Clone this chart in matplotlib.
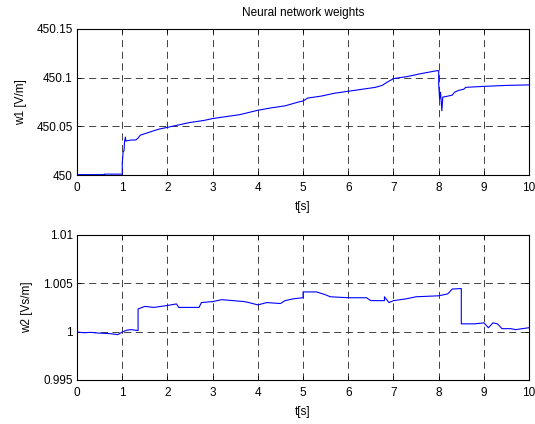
import matplotlib
matplotlib.use("Agg")
import matplotlib.pyplot as plt

plt.rcParams['font.family'] = ['Liberation Sans', 'DejaVu Sans']

# Weight w1 trajectory [V/m]
t1 = [0, 0.6, 0.6, 1.0, 1.0, 1.02, 1.04, 1.05, 1.07, 1.08, 1.2, 1.3, 1.35, 1.4,
      1.6, 1.8, 2.0, 2.3, 2.5, 2.8, 3.0, 3.3, 3.6, 4.0, 4.3, 4.6, 4.9, 5.0, 5.1,
      5.4, 5.7, 6.0, 6.3, 6.6, 6.75, 6.85, 7.0, 7.3, 7.6, 7.95, 8.0, 8.0, 8.02,
      8.04, 8.07, 8.09, 8.2, 8.3, 8.35, 8.45, 8.55, 8.6, 9.0, 9.5, 10.0]
w1 = [450.0005, 450.0005, 450.001, 450.001, 450.012, 450.024, 450.025, 450.034,
      450.039, 450.035, 450.036, 450.036, 450.038, 450.041, 450.044, 450.047,
      450.049, 450.052, 450.054, 450.056, 450.058, 450.060, 450.062, 450.0665,
      450.069, 450.071, 450.075, 450.076, 450.079, 450.081, 450.084, 450.086,
      450.088, 450.090, 450.092, 450.095, 450.099, 450.101, 450.104, 450.107,
      450.107, 450.093, 450.078, 450.085, 450.066, 450.080, 450.081, 450.082,
      450.085, 450.087, 450.088, 450.090, 450.091, 450.092, 450.0925]

# Weight w2 trajectory [Vs/m]
t2 = [0, 0.15, 0.3, 0.45, 0.6, 0.75, 0.9, 1.0, 1.1, 1.2, 1.35, 1.35, 1.5, 1.7,
      2.0, 2.2, 2.25, 2.7, 2.75, 3.0, 3.2, 3.7, 3.8, 4.0, 4.2, 4.5, 4.6, 4.8,
      5.0, 5.0, 5.3, 5.5, 5.6, 6.0, 6.4, 6.5, 6.8, 6.8, 6.9, 7.0, 7.3, 7.5,
      8.0, 8.2, 8.3, 8.5, 8.5, 8.8, 9.0, 9.1, 9.2, 9.3, 9.4, 9.6, 9.7, 10.0]
w2 = [0.99995, 0.99988, 0.99992, 0.99985, 0.99982, 0.99978, 0.99968, 0.99995,
      1.00015, 1.0002, 1.0001, 1.00234, 1.0026, 1.0025, 1.0027, 1.00286, 1.0025,
      1.0025, 1.0030, 1.0031, 1.0033, 1.0031, 1.0030, 1.00276, 1.0030, 1.0029,
      1.0032, 1.0034, 1.0035, 1.0041, 1.0041, 1.0038, 1.0036, 1.0035, 1.0035,
      1.0032, 1.0032, 1.0036, 1.0030, 1.0032, 1.0034, 1.0036, 1.0037, 1.0039,
      1.0044, 1.00445, 1.0008, 1.0008, 1.0009, 1.0004, 1.0009, 1.0008, 1.0003,
      1.0003, 1.0002, 1.0004]

t_ticks = list(range(0, 11))
w1_ticks = [450, 450.05, 450.1, 450.15]
w1_labels = ['450', '450.05', '450.1', '450.15']
w2_ticks = [0.995, 1.0, 1.005, 1.01]
w2_labels = ['0.995', '1', '1.005', '1.01']

fig = plt.figure(figsize=(5.35, 4.24), dpi=100)
ax1 = fig.add_axes([0.144, 0.587, 0.845, 0.345])
ax2 = fig.add_axes([0.144, 0.104, 0.845, 0.342])

fs = 8.5

def style(ax, yticks, ylabels, ylabel):
    ax.set_xlim(0, 10)
    ax.set_ylim(yticks[0], yticks[-1])
    ax.set_xticks(t_ticks)
    ax.set_yticks(yticks)
    ax.set_yticklabels(ylabels)
    ax.tick_params(direction='in', length=3, width=0.6, labelsize=fs,
                   top=True, right=True)
    ax.tick_params(axis='x', pad=5)
    ax.tick_params(axis='y', pad=3)
    ax.grid(True, color='#222222', linestyle=(0, (8.5, 5.5)), linewidth=0.6)
    for s in ax.spines.values():
        s.set_linewidth(0.8)
    ax.set_xlabel('t[s]', fontsize=fs, labelpad=5)
    ax.set_ylabel(ylabel, fontsize=fs, labelpad=7)

ax1.plot(t1, w1, color='#0000ff', linewidth=0.8)
style(ax1, w1_ticks, w1_labels, 'w1 [V/m]')
ax1.set_title('Neural network weights', fontsize=fs, pad=9)

ax2.plot(t2, w2, color='#0000ff', linewidth=0.8)
style(ax2, w2_ticks, w2_labels, 'w2 [Vs/m]')

fig.savefig('out.png', dpi=100)
